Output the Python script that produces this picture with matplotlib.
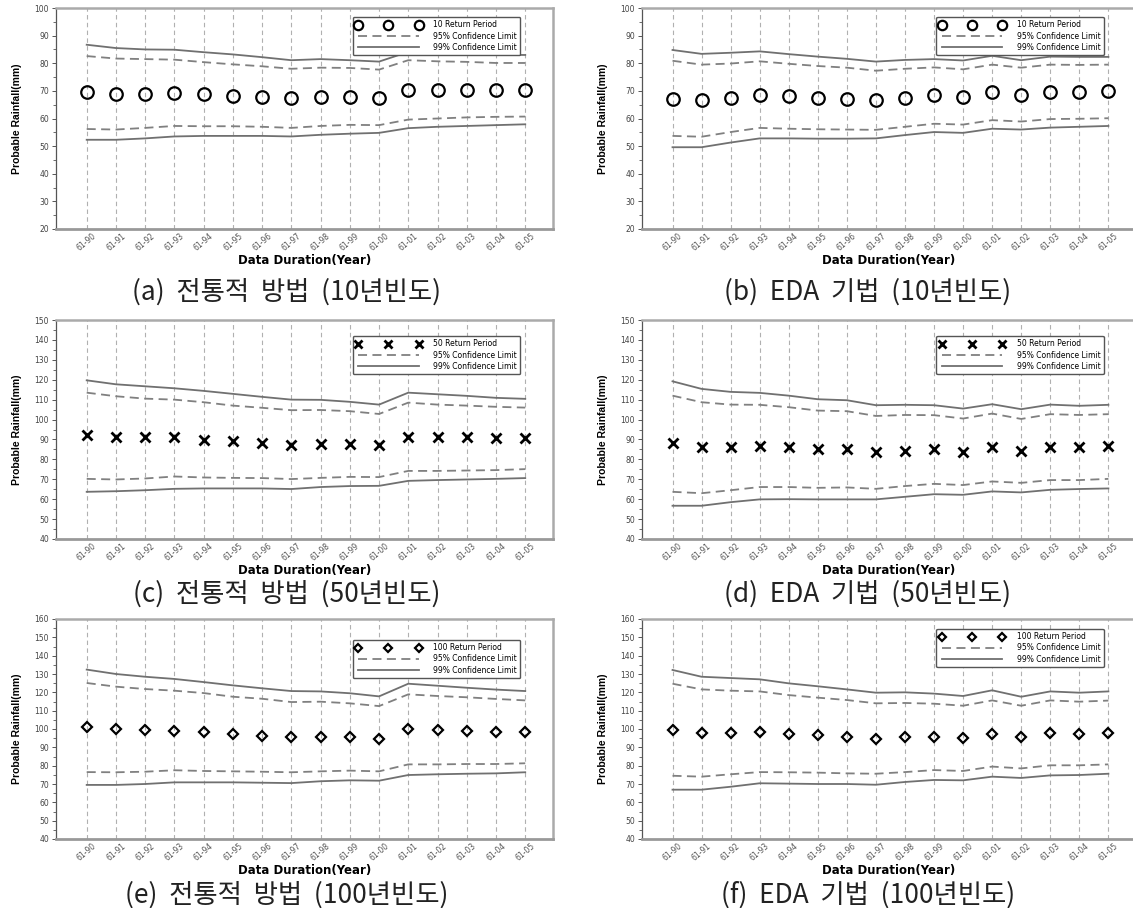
import numpy as np
import matplotlib
matplotlib.use("Agg")
import matplotlib.pyplot as plt
from matplotlib.ticker import MultipleLocator

# data (mm)
periods = ["61-90", "61-91", "61-92", "61-93", "61-94", "61-95", "61-96", "61-97",
           "61-98", "61-99", "61-00", "61-01", "61-02", "61-03", "61-04", "61-05"]

# (a) conventional, 10 yr
a_rp = [69.5, 68.9, 68.9, 69.3, 68.7, 68.3, 67.8, 67.3, 67.8, 67.8, 67.6, 70.4, 70.2, 70.4, 70.2, 70.4]
a_u99 = [86.7, 85.5, 85.0, 84.9, 84.0, 83.2, 82.2, 81.1, 81.5, 81.1, 80.6, 84.1, 83.7, 83.4, 83.0, 83.0]
a_u95 = [82.6, 81.7, 81.5, 81.3, 80.4, 79.6, 78.9, 78.0, 78.4, 78.3, 77.7, 81.1, 80.7, 80.5, 80.1, 80.1]
a_l95 = [56.2, 56.0, 56.6, 57.3, 57.2, 57.2, 57.0, 56.6, 57.3, 57.7, 57.6, 59.6, 60.0, 60.4, 60.6, 60.7]
a_l99 = [52.3, 52.3, 52.8, 53.5, 53.7, 53.7, 53.7, 53.5, 54.1, 54.5, 54.8, 56.5, 57.0, 57.3, 57.6, 57.9]

# (b) EDA, 10 yr
b_rp = [67.2, 66.6, 67.6, 68.6, 68.0, 67.6, 67.1, 66.6, 67.6, 68.4, 67.8, 69.5, 68.6, 69.6, 69.6, 69.8]
b_u99 = [84.8, 83.4, 83.8, 84.3, 83.3, 82.4, 81.6, 80.6, 81.2, 81.5, 81.0, 82.7, 81.1, 82.4, 82.3, 82.3]
b_u95 = [80.9, 79.5, 79.9, 80.7, 79.8, 79.0, 78.4, 77.3, 78.0, 78.5, 77.8, 79.5, 78.4, 79.5, 79.4, 79.5]
b_l95 = [53.7, 53.4, 55.1, 56.6, 56.3, 56.1, 56.0, 55.9, 57.0, 58.1, 57.8, 59.4, 58.9, 59.8, 59.9, 60.1]
b_l99 = [49.6, 49.6, 51.3, 52.8, 52.8, 52.7, 52.7, 52.8, 54.0, 55.1, 54.8, 56.3, 56.0, 56.7, 57.0, 57.3]

# (c) conventional, 50 yr
c_rp = [92.0, 91.0, 91.0, 91.0, 89.8, 89.0, 88.1, 87.3, 87.8, 87.8, 87.1, 91.3, 91.3, 91.1, 90.6, 90.6]
c_u99 = [119.7, 117.7, 116.7, 115.7, 114.4, 112.9, 111.4, 110.0, 109.9, 108.9, 107.5, 113.5, 112.7, 111.9, 110.9, 110.4]
c_u95 = [113.5, 111.7, 110.5, 110.0, 108.7, 107.0, 105.9, 104.7, 104.8, 104.2, 102.8, 108.5, 107.5, 107.0, 106.4, 106.0]
c_l95 = [70.2, 69.9, 70.4, 71.4, 70.9, 70.7, 70.6, 70.1, 70.7, 71.2, 71.1, 74.2, 74.2, 74.4, 74.6, 75.1]
c_l99 = [63.7, 64.0, 64.5, 65.2, 65.4, 65.4, 65.4, 65.1, 66.1, 66.6, 66.7, 69.2, 69.6, 69.9, 70.2, 70.6]

# (d) EDA, 50 yr
d_rp = [88.1, 86.0, 86.0, 86.8, 86.1, 85.0, 85.0, 83.6, 84.4, 85.0, 83.8, 86.0, 84.3, 86.3, 86.0, 86.5]
d_u99 = [119.2, 115.4, 113.9, 113.4, 112.0, 110.2, 109.7, 107.2, 107.4, 107.2, 105.5, 107.7, 105.2, 107.5, 106.9, 107.4]
d_u95 = [112.0, 108.7, 107.5, 107.4, 106.2, 104.5, 104.2, 101.8, 102.3, 102.2, 100.5, 103.0, 100.3, 102.7, 102.3, 102.7]
d_l95 = [63.7, 63.0, 64.5, 66.1, 66.1, 65.7, 65.9, 65.2, 66.6, 67.7, 67.1, 68.9, 68.2, 69.6, 69.6, 70.2]
d_l99 = [56.7, 56.7, 58.5, 59.9, 60.0, 59.9, 59.9, 59.9, 61.2, 62.5, 62.2, 63.9, 63.4, 64.7, 65.1, 65.4]

# (e) conventional, 100 yr
e_rp = [100.9, 99.8, 99.3, 99.1, 98.2, 97.3, 96.4, 95.5, 95.8, 95.6, 94.7, 99.8, 99.3, 98.9, 98.4, 98.4]
e_u99 = [132.4, 130.0, 128.5, 127.3, 125.6, 123.8, 122.2, 120.7, 120.5, 119.5, 117.8, 124.7, 123.6, 122.5, 121.5, 120.7]
e_u95 = [125.1, 123.1, 121.8, 120.9, 119.6, 117.6, 116.5, 114.7, 114.9, 114.0, 112.5, 118.9, 118.0, 117.3, 116.4, 115.6]
e_l95 = [76.5, 76.4, 76.7, 77.5, 77.1, 76.9, 76.7, 76.4, 76.9, 77.3, 76.9, 80.7, 80.7, 80.9, 80.9, 81.3]
e_l99 = [69.5, 69.5, 70.0, 70.9, 70.9, 70.9, 70.7, 70.5, 71.5, 72.0, 71.8, 74.9, 75.3, 75.6, 75.8, 76.4]

# (f) EDA, 100 yr
f_rp = [99.6, 97.6, 98.0, 98.5, 97.3, 96.5, 95.8, 94.5, 95.5, 95.6, 94.9, 97.5, 95.6, 97.6, 97.5, 97.8]
f_u99 = [132.2, 128.5, 127.8, 127.1, 124.9, 123.3, 121.6, 119.8, 120.0, 119.3, 118.0, 121.1, 117.6, 120.5, 119.8, 120.5]
f_u95 = [124.7, 121.6, 120.9, 120.5, 118.5, 117.1, 115.8, 114.0, 114.2, 113.8, 112.7, 115.6, 112.7, 115.6, 114.9, 115.5]
f_l95 = [74.5, 74.0, 75.3, 76.5, 76.4, 76.2, 75.8, 75.6, 76.5, 77.6, 77.1, 79.5, 78.5, 80.2, 80.2, 80.7]
f_l99 = [66.9, 66.9, 68.5, 70.4, 70.2, 70.0, 70.0, 69.6, 71.1, 72.2, 72.0, 74.0, 73.3, 74.7, 74.9, 75.6]

captions = ["(a)  전통적  방법  (10년빈도)", "(b)  EDA  기법  (10년빈도)",
            "(c)  전통적  방법  (50년빈도)", "(d)  EDA  기법  (50년빈도)",
            "(e)  전통적  방법  (100년빈도)", "(f)  EDA  기법  (100년빈도)"]

W, H = 1133, 908
fig = plt.figure(figsize=(W / 100, H / 100), dpi=100)

# pixel boxes: (left, right, top, bottom)
cols = [(56, 553), (642, 1136)]
rows = [(8, 229), (320, 539), (619, 839)]
cap_x = [287, 868]
cap_y = [292, 594, 895]
leg_anchor = [[(0.942, 0.977), (0.943, 0.977)],
              [(0.942, 0.945), (0.943, 0.945)],
              [(0.942, 0.923), (0.943, 0.973)]]

panels = [
    [(a_rp, a_u95, a_l95, a_u99, a_l99), (b_rp, b_u95, b_l95, b_u99, b_l99)],
    [(c_rp, c_u95, c_l95, c_u99, c_l99), (d_rp, d_u95, d_l95, d_u99, d_l99)],
    [(e_rp, e_u95, e_l95, e_u99, e_l99), (f_rp, f_u95, f_l95, f_u99, f_l99)],
]
ylims = [(20, 100), (40, 150), (40, 160)]
rp_names = ["10 Return Period", "50 Return Period", "100 Return Period"]
mk = [dict(marker="o", ms=9, mew=1.6), dict(marker="x", ms=7.5, mew=2.0),
      dict(marker="D", ms=5.5, mew=1.6)]

x = np.arange(len(periods))
line_c = "#808080"

for r in range(3):
    for c in range(2):
        l, rr = cols[c]
        t, b = rows[r]
        ax = fig.add_axes([l / W, 1 - b / H, (rr - l) / W, (b - t) / H])
        rp, u95, l95, u99, l99 = panels[r][c]

        for xi in x:
            ax.axvline(xi, color="#b0b0b0", lw=0.8, ls=(0, (4, 3)), zorder=0)

        ax.plot(x, rp, ls="none", color="black", mfc="none", label=rp_names[r], **mk[r])
        ax.plot(x, u95, color=line_c, lw=1.3, ls=(0, (5, 3)), label="95% Confidence Limit")
        ax.plot(x, l95, color=line_c, lw=1.3, ls=(0, (5, 3)))
        ax.plot(x, u99, color="#707070", lw=1.3, label="99% Confidence Limit")
        ax.plot(x, l99, color="#707070", lw=1.3)

        ax.set_xlim(-1.05, 15.95)
        ax.set_ylim(*ylims[r])
        ax.yaxis.set_major_locator(MultipleLocator(10))
        ax.yaxis.set_minor_locator(MultipleLocator(5))
        ax.set_xticks(x)
        ax.set_xticklabels(periods, rotation=40, ha="center", fontsize=5.5, color="#555555")
        ax.tick_params(axis="x", length=0, pad=2)
        ax.tick_params(axis="y", which="major", length=3, width=0.7, color="#555555",
                       labelsize=5.5, labelcolor="#444444", pad=2)
        ax.tick_params(axis="y", which="minor", length=2, width=0.6, color="#555555")

        ax.spines["left"].set_color("#555555")
        ax.spines["left"].set_linewidth(0.9)
        ax.spines["bottom"].set_color("#999999")
        ax.spines["bottom"].set_linewidth(2.0)
        for s in ["top", "right"]:
            ax.spines[s].set_color("#aaaaaa")
            ax.spines[s].set_linewidth(1.8)

        ax.set_xlabel("Data Duration(Year)", fontsize=8.5, fontweight="bold", labelpad=1)
        ax.set_ylabel("Probable Rainfall(mm)", fontsize=7.5, fontweight="bold",
                      family=["Liberation Sans", "DejaVu Sans"], labelpad=9)

        leg = ax.legend(loc="upper right", bbox_to_anchor=leg_anchor[r][c], numpoints=3,
                        handlelength=8.5, fontsize=5.5, labelspacing=0.3, borderpad=0.45,
                        handletextpad=1.6, markerscale=0.75, fancybox=True, framealpha=1)
        leg.get_frame().set_edgecolor("#555555")
        leg.get_frame().set_linewidth(1.0)

        fig.text(cap_x[c] / W, 1 - cap_y[r] / H, captions[r * 2 + c], ha="center", va="center",
                 fontsize=19, family=["Noto Sans CJK KR", "DejaVu Sans"], color="#222222")

fig.savefig("out.png", dpi=100)
